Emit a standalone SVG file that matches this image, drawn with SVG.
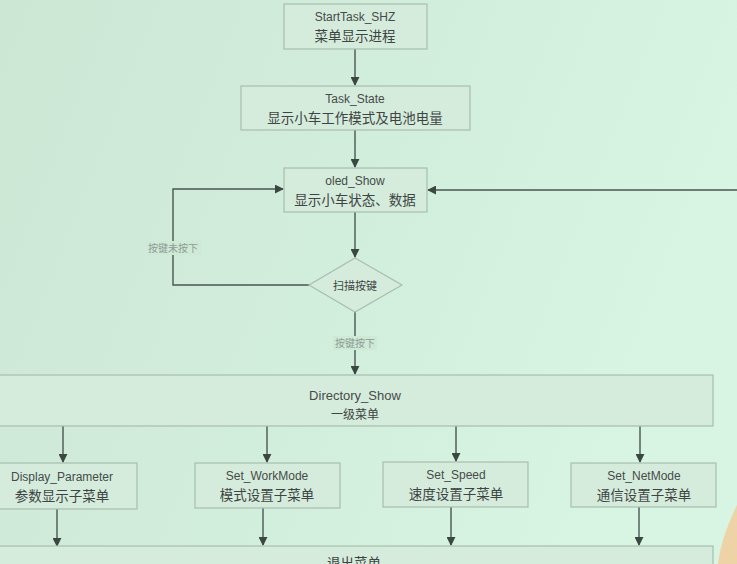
<svg xmlns="http://www.w3.org/2000/svg" width="737" height="564" viewBox="0 0 737 564">
  <defs>
    <linearGradient id="bg" x1="0" y1="0" x2="1" y2="0.3">
      <stop offset="0" stop-color="#cde7d5"/>
      <stop offset="0.6" stop-color="#d2eedc"/>
      <stop offset="1" stop-color="#d8f4e2"/>
    </linearGradient>
    <marker id="arrow" viewBox="0 0 10 10" refX="9" refY="5" markerWidth="9" markerHeight="9" markerUnits="userSpaceOnUse" orient="auto">
      <path d="M0,0 L10,5 L0,10 z" fill="#3b4842"/>
    </marker>
    <style>
      .box { fill: #d5ecdd; stroke: #a7beb0; stroke-width: 1.2; }
      .line { fill: none; stroke: #4a5651; stroke-width: 1.4; }
      .arr { marker-end: url(#arrow); }
      .en { font-family: "Liberation Sans", "Open Sans", sans-serif; font-size: 12px; fill: #454b48; text-anchor: middle; }
      .zh { font-family: "Noto Sans CJK SC", "Noto Sans", sans-serif; font-size: 13.5px; fill: #3e4441; text-anchor: middle; }
      .lbl { font-family: "Noto Sans CJK SC", sans-serif; font-size: 10px; fill: #8c9c93; text-anchor: middle; }
    </style>
  </defs>

  <rect width="737" height="564" fill="url(#bg)"/>

  <!-- connectors -->
  <g id="connectors">
    <line class="line arr" x1="355" y1="49" x2="355" y2="85"/>
    <line class="line arr" x1="355" y1="130" x2="355" y2="167"/>
    <line class="line arr" x1="737" y1="190" x2="428" y2="190"/>
    <line class="line arr" x1="355" y1="212" x2="355" y2="257"/>
    <polyline class="line arr" points="309,285 173,285 173,189 283,189"/>
    <line class="line arr" x1="355" y1="312" x2="355" y2="374"/>
    <line class="line arr" x1="63" y1="426" x2="63" y2="462"/>
    <line class="line arr" x1="267" y1="426" x2="267" y2="462"/>
    <line class="line arr" x1="456" y1="426" x2="456" y2="461"/>
    <line class="line arr" x1="640" y1="426" x2="640" y2="462"/>
    <line class="line arr" x1="57" y1="509" x2="57" y2="546"/>
    <line class="line arr" x1="263" y1="508" x2="263" y2="545"/>
    <line class="line arr" x1="451" y1="507" x2="451" y2="545"/>
    <line class="line arr" x1="639" y1="507" x2="639" y2="545"/>
    <rect x="146" y="241" width="55" height="14" fill="#cfe9d7"/>
    <text class="lbl" x="173" y="252">按键未按下</text>
    <rect x="333" y="336" width="44" height="14" fill="#cfe9d7"/>
    <text class="lbl" x="355" y="347">按键按下</text>
  </g>

  <g id="start-task">
    <rect class="box" x="284" y="4" width="143" height="45"/>
    <text class="en" x="355" y="21">StartTask_SHZ</text>
    <text class="zh" x="355" y="41">菜单显示进程</text>
  </g>

  <g id="task-state">
    <rect class="box" x="241" y="86" width="229" height="44"/>
    <text class="en" x="355" y="103">Task_State</text>
    <text class="zh" x="355" y="123">显示小车工作模式及电池电量</text>
  </g>

  <g id="oled-show">
    <rect class="box" x="284" y="168" width="143" height="44"/>
    <text class="en" x="355" y="185">oled_Show</text>
    <text class="zh" x="355" y="205">显示小车状态、数据</text>
  </g>

  <g id="scan-keys">
    <polygon class="box" points="355,258 402,285 355,312 309,285"/>
    <text class="zh" x="355" y="290" style="font-size:11px">扫描按键</text>
  </g>

  <g id="directory-show">
    <rect class="box" x="-2" y="375" width="715" height="51"/>
    <text class="en" x="355" y="400" style="font-size:13px">Directory_Show</text>
    <text class="zh" x="355" y="419" style="font-size:12px">一级菜单</text>
  </g>

  <g id="display-parameter">
    <rect class="box" x="-2" y="463" width="139" height="46"/>
    <text class="en" x="62" y="481">Display_Parameter</text>
    <text class="zh" x="62" y="501">参数显示子菜单</text>
  </g>

  <g id="set-workmode">
    <rect class="box" x="195" y="463" width="145" height="45"/>
    <text class="en" x="267" y="480">Set_WorkMode</text>
    <text class="zh" x="267" y="500">模式设置子菜单</text>
  </g>

  <g id="set-speed">
    <rect class="box" x="383" y="462" width="145" height="45"/>
    <text class="en" x="456" y="479">Set_Speed</text>
    <text class="zh" x="456" y="499">速度设置子菜单</text>
  </g>

  <g id="set-netmode">
    <rect class="box" x="571" y="463" width="145" height="44"/>
    <text class="en" x="644" y="480">Set_NetMode</text>
    <text class="zh" x="644" y="500">通信设置子菜单</text>
  </g>

  <g id="exit-menu">
    <rect class="box" x="-2" y="546" width="715" height="30"/>
    <text class="zh" x="354" y="568">退出菜单</text>
  </g>

  <!-- warm patch along the lower right edge -->
  <path d="M737,505 C730,520 721,540 718,564 L737,564 Z" fill="#f1cfa0" opacity="0.9"/>
</svg>
